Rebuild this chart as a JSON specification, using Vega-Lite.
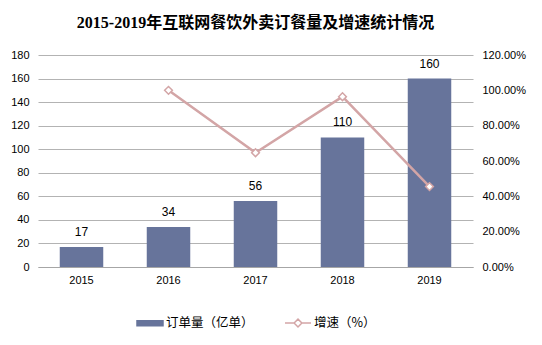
{
  "$schema": "https://vega.github.io/schema/vega-lite/v6.json",
  "width": 435,
  "height": 212,
  "padding": {"left": 10, "top": 15, "right": 10, "bottom": 10},
  "background": "white",
  "title": {
    "text": "2015-2019年互联网餐饮外卖订餐量及增速统计情况",
    "font": "Liberation Serif, Noto Sans CJK SC",
    "fontSize": 16,
    "fontWeight": "bold",
    "color": "#000000",
    "offset": 18,
    "anchor": "middle"
  },
  "data": {
    "values": [
      {"year": "2015", "orders": 17, "growth": null},
      {"year": "2016", "orders": 34, "growth": 1.0},
      {"year": "2017", "orders": 56, "growth": 0.647},
      {"year": "2018", "orders": 110, "growth": 0.964},
      {"year": "2019", "orders": 160, "growth": 0.455}
    ]
  },
  "encoding": {
    "x": {
      "field": "year",
      "type": "nominal",
      "scale": {"paddingInner": 0.5, "paddingOuter": 0.25},
      "axis": {
        "title": null,
        "labelAngle": 0,
        "ticks": false,
        "domainColor": "#A6A6A6",
        "labelPadding": 7,
        "labelFont": "Liberation Sans",
        "labelFontSize": 11,
        "labelColor": "#000000"
      }
    }
  },
  "layer": [
    {
      "mark": {"type": "bar"},
      "encoding": {
        "y": {
          "field": "orders",
          "type": "quantitative",
          "scale": {"domain": [0, 180]},
          "axis": {
            "title": null,
            "values": [0, 20, 40, 60, 80, 100, 120, 140, 160, 180],
            "grid": true,
            "gridColor": "#B3B3B3",
            "domain": false,
            "ticks": false,
            "labelPadding": 9,
            "labelFont": "Liberation Sans",
            "labelFontSize": 11,
            "labelColor": "#000000"
          }
        },
        "color": {
          "datum": "订单量（亿单）",
          "type": "nominal",
          "scale": {"domain": ["订单量（亿单）", "增速（%）"], "range": ["#67749B", "#D3A5A6"]},
          "legend": {
            "title": null,
            "orient": "bottom",
            "direction": "horizontal",
            "offset": 24,
            "symbolSize": 676,
            "columnPadding": 28,
            "labelOffset": 2,
            "labelFont": "Noto Sans CJK SC",
            "labelFontSize": 12.5,
            "labelColor": "#000000",
            "encode": {
              "symbols": {
                "update": {
                  "shape": {"signal": "datum.value == '订单量（亿单）' ? 'M-1,-0.2L1,-0.2L1,0.2L-1,0.2Z' : 'M-1,0L-0.3,0M0.3,0L1,0M-0.3,0L0,-0.3L0.3,0L0,0.3Z'"},
                  "fill": {"signal": "datum.value == '订单量（亿单）' ? '#67749B' : '#ffffff'"},
                  "fillOpacity": {"signal": "datum.value == '订单量（亿单）' ? 1 : 0"},
                  "stroke": {"signal": "datum.value == '订单量（亿单）' ? '#67749B' : '#D3A5A6'"},
                  "strokeWidth": {"value": 1.5},
                  "strokeDash": {"value": []},
                  "opacity": {"value": 1},
                  "size": {"value": 676}
                }
              }
            }
          }
        }
      }
    },
    {
      "mark": {"type": "text", "baseline": "bottom", "dy": -8, "font": "Liberation Sans", "fontSize": 12, "color": "#000000"},
      "encoding": {
        "y": {"field": "orders", "type": "quantitative", "scale": {"domain": [0, 180]}, "axis": null},
        "text": {"field": "orders", "type": "quantitative"}
      }
    },
    {
      "transform": [{"filter": "datum.growth != null"}],
      "mark": {"type": "line", "strokeWidth": 2.5},
      "encoding": {
        "y": {
          "field": "growth",
          "type": "quantitative",
          "scale": {"domain": [0, 1.2]},
          "axis": {
            "title": null,
            "orient": "right",
            "values": [0, 0.2, 0.4, 0.6, 0.8, 1.0, 1.2],
            "format": ".2%",
            "grid": false,
            "domain": false,
            "ticks": false,
            "labelPadding": 9,
            "labelFont": "Liberation Sans",
            "labelFontSize": 11,
            "labelColor": "#000000"
          }
        },
        "color": {"datum": "增速（%）", "type": "nominal"}
      }
    },
    {
      "transform": [{"filter": "datum.growth != null"}],
      "mark": {"type": "point", "shape": "diamond", "filled": true, "fill": "#ffffff", "stroke": "#D3A5A6", "strokeWidth": 1.5, "size": 60, "opacity": 1},
      "encoding": {
        "y": {"field": "growth", "type": "quantitative", "scale": {"domain": [0, 1.2]}, "axis": null}
      }
    }
  ],
  "resolve": {"scale": {"y": "independent"}},
  "config": {
    "view": {"stroke": null},
    "legend": {"layout": {"bottom": {"anchor": "middle"}}}
  }
}
